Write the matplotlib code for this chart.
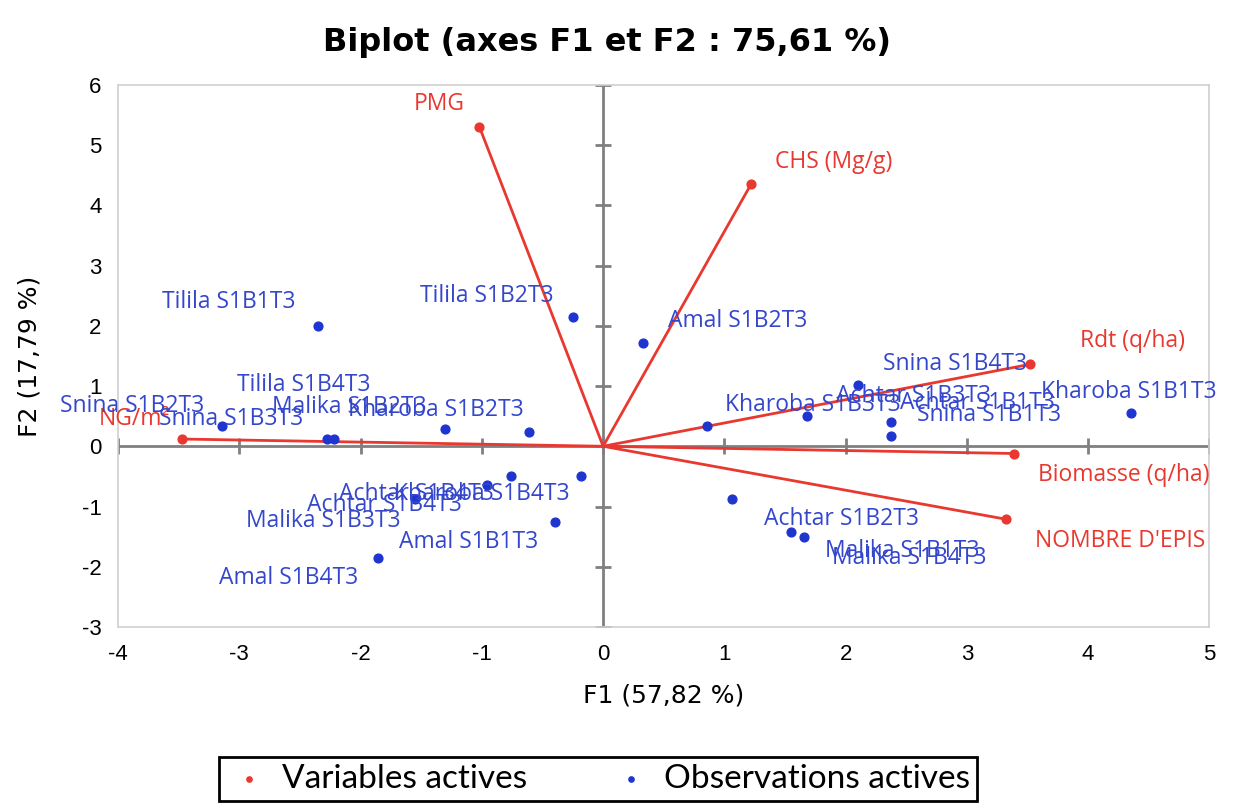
import numpy as np
import matplotlib.pyplot as plt

# variables actives (coordonnées F1, F2)
var_noms = ['PMG', 'CHS (Mg/g)', 'Rdt (q/ha)', 'Biomasse (q/ha)', "NOMBRE D'EPIS", 'NG/m²']
var_f1 = [-1.02, 1.22, 3.52, 3.39, 3.32, -3.47]
var_f2 = [5.30, 4.35, 1.36, -0.12, -1.21, 0.12]

# observations actives
obs_noms = ['Tilila S1B1T3', 'Tilila S1B2T3', 'Amal S1B2T3',
            'Snina S1B2T3', 'Snina S1B3T3', 'Tilila S1B4T3', 'Malika S1B2T3', 'Kharoba S1B2T3',
            'Achtar S1B4T3', 'Kharoba S1B4T3', 'Achtar S1B4T3', 'Malika S1B3T3', 'Amal S1B1T3', 'Amal S1B4T3',
            'Achtar S1B2T3', 'Malika S1B1T3', 'Malika S1B4T3',
            'Kharoba S1B3T3', 'Achtar S1B3T3', 'Snina S1B4T3', 'Achtar S1B1T3', 'Snina S1B1T3', 'Kharoba S1B1T3']
obs_f1 = [-2.35, -0.25, 0.33,
          -3.14, -2.28, -2.22, -1.30, -0.61,
          -0.76, -0.18, -0.96, -1.55, -0.40, -1.86,
          1.06, 1.55, 1.66,
          0.86, 1.68, 2.10, 2.37, 2.37, 4.35]
obs_f2 = [1.99, 2.14, 1.71,
          0.33, 0.12, 0.12, 0.28, 0.23,
          -0.50, -0.50, -0.65, -0.87, -1.26, -1.86,
          -0.88, -1.43, -1.50,
          0.33, 0.51, 1.01, 0.40, 0.17, 0.56]

# décalage des étiquettes (en pixels, x vers la droite, y vers le bas)
var_dec = [(-40, -23), (83, -22), (103, -23), (110, 21), (114, 22), (-48, -20)]
obs_dec = [(-89, -24), (-86, -21), (95, -22),
           (-90, -20), (-96, -20), (-30, -54), (-96, -22), (-93, -22),
           (-95, 18), (-99, 18), (-102, 20), (-92, 22), (-86, 20), (-89, 20),
           (110, 20), (111, 19), (105, 21),
           (105, -21), (107, -20), (97, -21), (87, -19), (99, -21), (-2, -21)]

rouge = '#E8382F'
bleu = '#1F35D0'
bleu_txt = '#3447CC'

plt.rcParams['font.family'] = ['Liberation Sans', 'DejaVu Sans']
plt.rcParams['axes.unicode_minus'] = False
fig = plt.figure(figsize=(12.43, 8.07), dpi=100)
ax = fig.add_axes([0.095, 0.223, 0.878, 0.672])

ax.set_xlim(-4, 5)
ax.set_ylim(-3, 6)
for s in ax.spines.values():
    s.set_color('#D0D0D0')
    s.set_linewidth(1.2)

# axes centraux
ax.axhline(0, color='#808080', lw=2, zorder=1)
ax.axvline(0, color='#808080', lw=2, zorder=1)
xt = np.arange(-4, 6)
yt = np.arange(-3, 7)
ax.plot(xt, np.zeros_like(xt), ls='none', marker='|', ms=12, mew=2, color='#808080', zorder=1)
ax.plot(np.zeros_like(yt), yt, ls='none', marker='_', ms=12, mew=2, color='#808080', zorder=1)

ax.set_xticks(xt)
ax.set_yticks(yt)
ax.tick_params(length=0, labelsize=16, pad=12)

# flèches des variables
for nom, x, y, (dx, dy) in zip(var_noms, var_f1, var_f2, var_dec):
    ax.plot([0, x], [0, y], color=rouge, lw=2, zorder=3)
    ax.annotate(nom, (x, y), xytext=(dx * 0.72, -dy * 0.72), textcoords='offset points',
                ha='center', va='center', color=rouge, fontsize=16.5, family='Open Sans', zorder=5)
ax.scatter(var_f1, var_f2, color=rouge, s=40, zorder=4, label='Variables actives')

# observations
ax.scatter(obs_f1, obs_f2, color=bleu, s=40, zorder=4, label='Observations actives')
for nom, x, y, (dx, dy) in zip(obs_noms, obs_f1, obs_f2, obs_dec):
    ax.annotate(nom, (x, y), xytext=(dx * 0.72, -dy * 0.72), textcoords='offset points',
                ha='center', va='center', color=bleu_txt, fontsize=16.5, family='Open Sans', zorder=5)

ax.set_xlabel('F1 (57,82 %)', fontsize=18, family='DejaVu Sans')
ax.set_ylabel('F2 (17,79 %)', fontsize=18, family='DejaVu Sans')
ax.xaxis.set_label_coords(0.5, -0.105)
ax.yaxis.set_label_coords(-0.07, 0.5)

fig.text(607 / 1243, 1 - 42 / 807, 'Biplot (axes F1 et F2 : 75,61 %)', ha='center', va='center',
         fontsize=23, fontweight='bold', family='DejaVu Sans')

leg = fig.legend(loc='center', bbox_to_anchor=(598 / 1243, 1 - 779 / 807), ncol=2,
                 frameon=True, fancybox=False, edgecolor='black', framealpha=1,
                 markerscale=0.6, handletextpad=0.3, columnspacing=2.4, borderpad=0.2,
                 handlelength=1.4, prop={'family': 'Lato', 'size': 24})
leg.get_frame().set_linewidth(2)

fig.savefig('out.png', dpi=100)
